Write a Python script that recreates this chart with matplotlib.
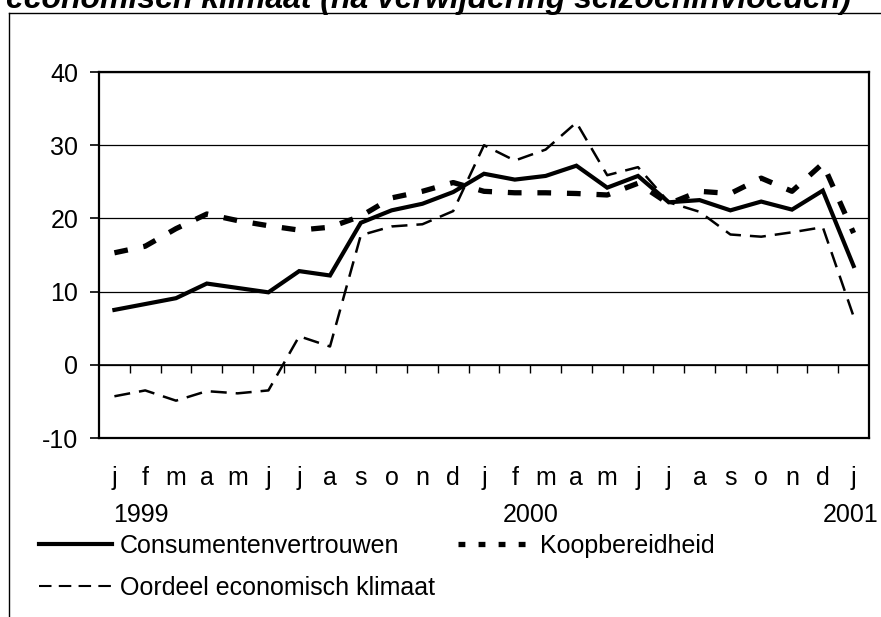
import matplotlib
matplotlib.use('Agg')
import matplotlib.pyplot as plt
from matplotlib.lines import Line2D
from matplotlib.transforms import blended_transform_factory

plt.rcParams['font.family'] = ['Liberation Sans', 'DejaVu Sans']

# ---------------- data ----------------
months = ['j', 'f', 'm', 'a', 'm', 'j', 'j', 'a', 's', 'o', 'n', 'd',
          'j', 'f', 'm', 'a', 'm', 'j', 'j', 'a', 's', 'o', 'n', 'd', 'j']
years = ['1999', '2000', '2001']
year_index = [0, 12, 24]

consumentenvertrouwen = [7.5, 8.3, 9.1, 11.1, 10.5, 9.9, 12.8, 12.2, 19.4, 21.1, 22.0, 23.6,
                         26.1, 25.3, 25.8, 27.2, 24.2, 25.8, 22.2, 22.5, 21.1, 22.3, 21.2, 23.8, 13.5]
koopbereidheid = [15.3, 16.2, 18.6, 20.6, 19.7, 19.0, 18.4, 18.8, 20.3, 22.8, 23.7, 24.9,
                  23.7, 23.5, 23.5, 23.4, 23.2, 24.8, 22.0, 23.7, 23.4, 25.5, 23.7, 27.5, 18.0]
oordeel = [-4.3, -3.5, -4.9, -3.6, -3.9, -3.5, 3.9, 2.5, 17.7, 18.9, 19.2, 21.0,
           30.0, 27.9, 29.4, 33.1, 25.9, 27.0, 22.2, 20.9, 17.8, 17.5, 18.1, 18.8, 6.6]

series_labels = ['Consumentenvertrouwen', 'Koopbereidheid', 'Oordeel economisch klimaat']
yticks = [-10, 0, 10, 20, 30, 40]
title = 'economisch klimaat (na verwijdering seizoeninvloeden)'

# ---------------- figure ----------------
W, H = 881, 617
fig = plt.figure(figsize=(W / 100, H / 100), dpi=100)
FS = 18

ax = fig.add_axes([99 / W, 1 - 438 / H, 770 / W, 366 / H])
x = list(range(len(months)))

ax.plot(x, oordeel, color='black', lw=1.8, dashes=(6.4, 3.6), zorder=3)
ax.plot(x, koopbereidheid, color='black', lw=3.8, dashes=(2.6, 3.0), zorder=4)
ax.plot(x, consumentenvertrouwen, color='black', lw=3.0, solid_joinstyle='miter', zorder=5)

ax.set_xlim(-0.5, len(months) - 0.5)
ax.set_ylim(-10, 40)
ax.set_yticks(yticks)
ax.set_yticklabels([str(v) for v in yticks], fontsize=FS)
ax.yaxis.grid(True, color='black', lw=0.9)
ax.set_axisbelow(True)

# x-axis line at 0 with ticks between categories
ax.spines['bottom'].set_position(('data', 0))
ax.spines['bottom'].set_linewidth(1.2)
ax.set_xticks([i + 0.5 for i in range(len(months) - 1)])
ax.tick_params(axis='x', direction='out', length=5.5, width=1.0, labelbottom=False)
ax.tick_params(axis='y', direction='out', length=6.5, width=1.2, pad=8.5)
for s in ['left', 'right', 'top']:
    ax.spines[s].set_linewidth(1.6)
ax.axhline(-10, color='black', lw=1.6, clip_on=False, zorder=6)

trans = blended_transform_factory(ax.transData, ax.transAxes)
for i, m in enumerate(months):
    ax.text(i, -0.1284, m, transform=trans, ha='center', va='baseline', fontsize=FS)
year_offsets = [-0.05, 0.6, -1.0]
for yi, lab, off in zip(year_index, years, year_offsets):
    ax.text(yi + off, -0.2295, lab, transform=trans, ha='left', va='baseline', fontsize=FS)

# legends
h_c = Line2D([], [], color='black', lw=3.0)
h_k = Line2D([], [], color='black', lw=3.8, dashes=(1.3, 2.5))
h_o = Line2D([], [], color='black', lw=1.5, dashes=(6.0, 3.5))
common = dict(frameon=False, fontsize=FS, borderpad=0, borderaxespad=0,
              loc='center left')
fig.legend([h_c], [series_labels[0]], bbox_to_anchor=(39 / W, 1 - 546 / H),
           handlelength=2.92, handletextpad=0.3, **common)
fig.legend([h_k], [series_labels[1]], bbox_to_anchor=(458 / W, 1 - 546 / H),
           handlelength=3.2, handletextpad=0.1, **common)
fig.legend([h_o], [series_labels[2]], bbox_to_anchor=(39 / W, 1 - 588 / H),
           handlelength=2.92, handletextpad=0.3, **common)

# title (cut off at top) and outer frame
fig.text(6 / W, 1 - 8 / H, title, fontsize=23, weight='bold', style='italic',
         ha='left', va='baseline')
fig.add_artist(Line2D([9 / W, 9 / W], [0, 1 - 13 / H], transform=fig.transFigure,
                      color='black', lw=1.0))
fig.add_artist(Line2D([9 / W, 1], [1 - 13 / H, 1 - 13 / H], transform=fig.transFigure,
                      color='black', lw=1.0))

fig.savefig('out.png', dpi=100)
